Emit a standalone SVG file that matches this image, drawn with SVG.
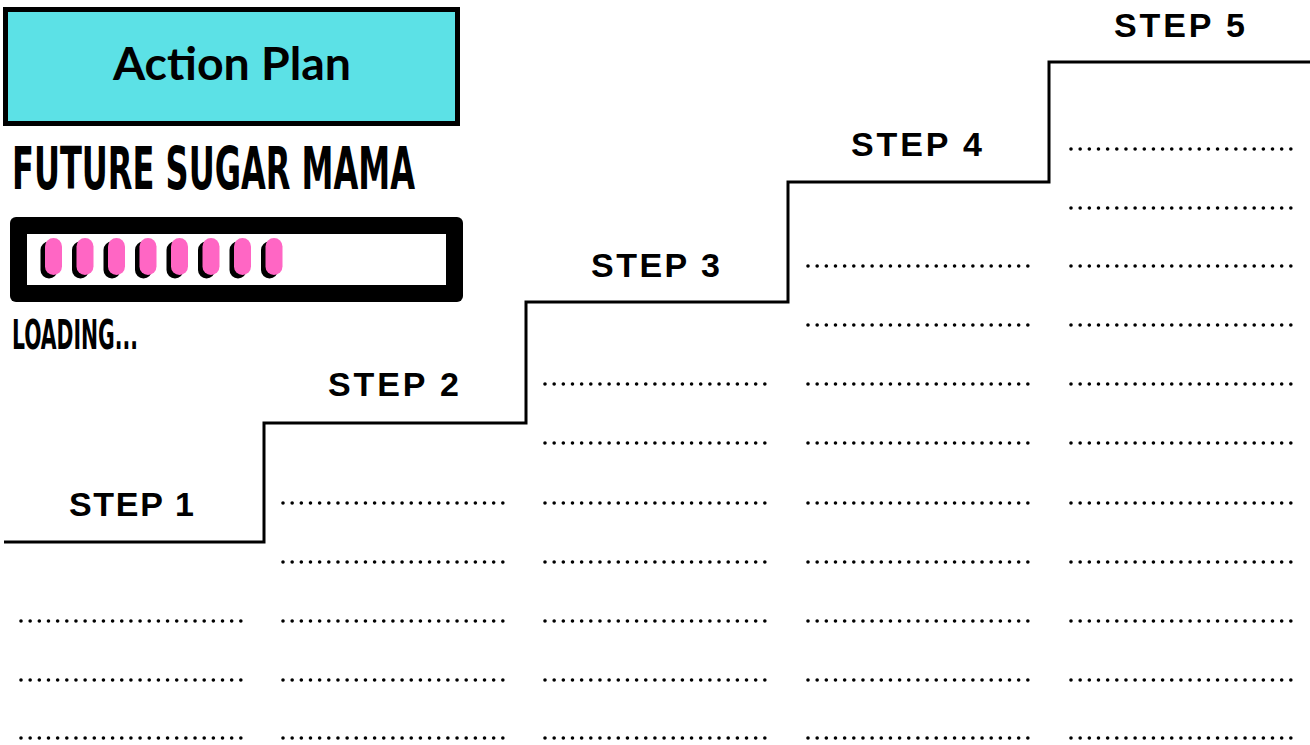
<svg xmlns="http://www.w3.org/2000/svg" width="1310" height="745" viewBox="0 0 1310 745">
<style>
.step{font-family:"Liberation Sans",Arial,sans-serif;font-weight:bold;font-size:34px;fill:#000;letter-spacing:3px}
.dots{stroke:#000;stroke-width:3.6;stroke-linecap:round;stroke-dasharray:0 9.16;fill:none}
.cond{font-family:"Liberation Sans Narrow","DejaVu Sans Condensed","Liberation Sans",sans-serif;font-weight:bold;fill:#000}
.pill{fill:#ff66c4}
.shadow{fill:#000}
</style>
<rect width="1310" height="745" fill="#fff"/>
<g id="title">
<rect x="5.5" y="9.5" width="452" height="114" fill="#5ce1e6" stroke="#000" stroke-width="5"/>
<text x="113" y="80" textLength="238" lengthAdjust="spacingAndGlyphs" font-family="Lato,'Noto Sans',sans-serif" font-weight="bold" font-size="45">Action Plan</text>
</g>
<g id="heading">
<text class="cond" x="12" y="189" font-size="58" textLength="403" lengthAdjust="spacingAndGlyphs">FUTURE SUGAR MAMA</text>
</g>
<g id="loading-bar">
<rect x="10" y="217" width="453" height="85" rx="6" fill="#000"/>
<rect x="27" y="234" width="419" height="51" fill="#fff"/>
<g>
<rect class="shadow" x="40.5" y="241.5" width="17" height="37" rx="8.5"/><rect class="pill" x="45" y="238" width="17" height="37" rx="8.5"/>
<rect class="shadow" x="72" y="241.5" width="17" height="37" rx="8.5"/><rect class="pill" x="76.5" y="238" width="17" height="37" rx="8.5"/>
<rect class="shadow" x="103.5" y="241.5" width="17" height="37" rx="8.5"/><rect class="pill" x="108" y="238" width="17" height="37" rx="8.5"/>
<rect class="shadow" x="135" y="241.5" width="17" height="37" rx="8.5"/><rect class="pill" x="139.5" y="238" width="17" height="37" rx="8.5"/>
<rect class="shadow" x="166.5" y="241.5" width="17" height="37" rx="8.5"/><rect class="pill" x="171" y="238" width="17" height="37" rx="8.5"/>
<rect class="shadow" x="198" y="241.5" width="17" height="37" rx="8.5"/><rect class="pill" x="202.5" y="238" width="17" height="37" rx="8.5"/>
<rect class="shadow" x="229.5" y="241.5" width="17" height="37" rx="8.5"/><rect class="pill" x="234" y="238" width="17" height="37" rx="8.5"/>
<rect class="shadow" x="261" y="241.5" width="17" height="37" rx="8.5"/><rect class="pill" x="265.5" y="238" width="17" height="37" rx="8.5"/>
</g>
<text class="cond" x="12" y="349" font-size="40" textLength="126" lengthAdjust="spacingAndGlyphs">LOADING...</text>
</g>
<g id="connectors">
<path d="M4 542 H264 V423 H526 V302 H788 V182 H1049 V62 H1310" fill="none" stroke="#000" stroke-width="3"/>
</g>
<g id="step1">
<text class="step" x="69" y="516" textLength="128" lengthAdjust="spacing">STEP 1</text>
<path class="dots" d="M21 621H241M21 680H241M21 738H241"/>
</g>
<g id="step2">
<text class="step" x="328" y="396" textLength="134" lengthAdjust="spacing">STEP 2</text>
<path class="dots" d="M283 503H503M283 562H503M283 621H503M283 680H503M283 738H503"/>
</g>
<g id="step3">
<text class="step" x="591" y="277" textLength="132" lengthAdjust="spacing">STEP 3</text>
<path class="dots" d="M545 384H765M545 443H765M545 503H765M545 562H765M545 621H765M545 680H765M545 738H765"/>
</g>
<g id="step4">
<text class="step" x="851" y="156" textLength="134" lengthAdjust="spacing">STEP 4</text>
<path class="dots" d="M808 266H1028M808 325H1028M808 384H1028M808 443H1028M808 503H1028M808 562H1028M808 621H1028M808 680H1028M808 738H1028"/>
</g>
<g id="step5">
<text class="step" x="1114" y="37" textLength="134" lengthAdjust="spacing">STEP 5</text>
<path class="dots" d="M1071 149H1291M1071 208H1291M1071 266H1291M1071 325H1291M1071 384H1291M1071 443H1291M1071 503H1291M1071 562H1291M1071 621H1291M1071 680H1291M1071 738H1291"/>
</g>
</svg>
